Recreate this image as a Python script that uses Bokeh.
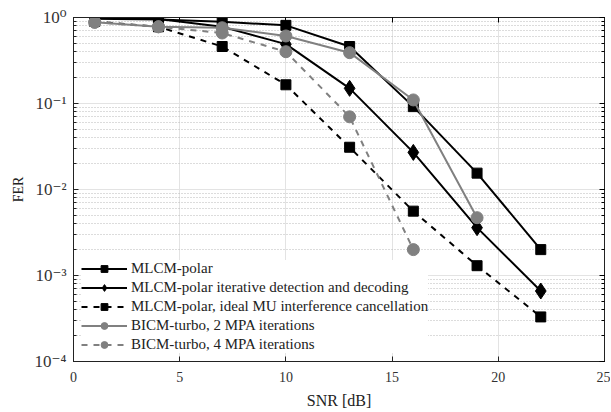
from bokeh.plotting import figure
from bokeh.models import LinearAxis, LogAxis, CustomJSTickFormatter, Legend, FixedTicker, LogTicker, Range1d
from bokeh.embed import file_html
from bokeh.resources import INLINE

snr = [1, 4, 7, 10, 13, 16, 19, 22]
fer_polar = [0.97, 0.95, 0.89, 0.81, 0.46, 0.092, 0.0155, 0.002]
fer_iter = [0.99, 0.96, 0.78, 0.49, 0.15, 0.027, 0.0036, 0.00066]
fer_ideal = [0.9, 0.78, 0.46, 0.165, 0.031, 0.0056, 0.0013, 0.00033]
snr_bicm2 = [1, 4, 7, 10, 13, 16, 19]
fer_bicm2 = [0.88, 0.78, 0.76, 0.61, 0.39, 0.11, 0.0047]
snr_bicm4 = [1, 4, 7, 10, 13, 16]
fer_bicm4 = [0.88, 0.78, 0.66, 0.40, 0.07, 0.002]

labels = ["MLCM-polar",
          "MLCM-polar iterative detection and decoding",
          "MLCM-polar, ideal MU interference cancellation",
          "BICM-turbo, 2 MPA iterations",
          "BICM-turbo, 4 MPA iterations"]

FONT = "'Liberation Serif', 'DejaVu Serif', serif"
GRAY = "#808080"

p = figure(frame_width=531, frame_height=344, output_backend="svg", toolbar_location=None,
           y_axis_type="log", x_range=Range1d(0, 25), y_range=Range1d(1e-4, 1),
           min_border_left=73, min_border_right=6, min_border_top=17, min_border_bottom=0,
           background_fill_color="white", border_fill_color="white")
p.outline_line_color = "#222222"
p.outline_line_width = 1

sup = CustomJSTickFormatter(code="""
const e = Math.round(Math.log10(tick));
const m = {'-':'\u207b','0':'\u2070','1':'\u00b9','2':'\u00b2','3':'\u00b3','4':'\u2074','5':'\u2075','6':'\u2076','7':'\u2077','8':'\u2078','9':'\u2079'};
return '10' + String(e).split('').map(c => m[c]).join('');
""")
blank = CustomJSTickFormatter(code="return '';")

xt = FixedTicker(ticks=[0, 5, 10, 15, 20, 25])
yt = LogTicker(num_minor_ticks=10)

p.xaxis.ticker = xt
p.yaxis.ticker = yt
p.yaxis.formatter = sup
for ax in [p.xaxis[0], p.yaxis[0]]:
    ax.major_label_text_font = FONT
    ax.major_label_text_color = "#333333"
    ax.axis_label_text_font = FONT
    ax.axis_label_text_font_style = "normal"
    ax.axis_label_text_color = "#222222"
    ax.major_tick_in = 5
    ax.major_tick_out = 0
    ax.minor_tick_in = 3
    ax.minor_tick_out = 0
    ax.axis_line_color = "#222222"
    ax.major_tick_line_color = "#222222"
    ax.minor_tick_line_color = "#222222"
p.xaxis.major_label_text_font_size = "14px"
p.yaxis.major_label_text_font_size = "17px"
p.xaxis.axis_label = "SNR [dB]"
p.xaxis.axis_label_text_font_size = "16px"
p.xaxis.axis_label_standoff = 7
p.xaxis.major_label_standoff = 10
p.yaxis.axis_label = "FER"
p.yaxis.axis_label_text_font_size = "14px"
p.yaxis.axis_label_standoff = 6
p.yaxis.major_label_standoff = 7
p.xaxis.minor_tick_line_color = None

# top and right axes (ticks only)
top = LinearAxis(ticker=xt, formatter=blank, major_label_text_font_size="1px",
                 major_tick_in=5, major_tick_out=0, minor_tick_line_color=None,
                 major_label_standoff=0, axis_line_color="#222222")
right = LogAxis(ticker=yt, formatter=blank, major_label_text_font_size="1px",
                major_tick_in=5, major_tick_out=0, minor_tick_in=3, minor_tick_out=0,
                major_label_standoff=0, axis_line_color="#222222")
p.add_layout(top, "above")
p.add_layout(right, "right")

p.xgrid.grid_line_color = "#e3e3e3"
p.ygrid.grid_line_color = "#e3e3e3"
p.ygrid.minor_grid_line_color = "#b8b8b8"
p.ygrid.minor_grid_line_dash = "1 2"

items = []
def series(x, y, color, dash, marker, size, label):
    r1 = p.line(x, y, line_color=color, line_width=2, line_dash=dash)
    r2 = p.scatter(x, y, marker=marker, size=size, fill_color=color, line_color=color)
    items.append((label, [r1, r2]))

series(snr, fer_polar, "black", "solid", "square", 10, labels[0])
series(snr, fer_iter, "black", "solid", "diamond", 16, labels[1])
series(snr, fer_ideal, "black", "dashed", "square", 10, labels[2])
series(snr_bicm2, fer_bicm2, GRAY, "solid", "circle", 12, labels[3])
series(snr_bicm4, fer_bicm4, GRAY, "dashed", "circle", 12, labels[4])

leg = Legend(items=items, location="bottom_left", label_text_font=FONT,
             label_text_font_size="15px", label_text_color="#222222",
             glyph_width=46, glyph_height=17, label_standoff=4, spacing=2,
             padding=5, margin=8, border_line_color=None,
             background_fill_color="white", background_fill_alpha=1.0,
             label_height=17)
p.add_layout(leg, "center")

open("out.html", "w").write(file_html(p, INLINE))
